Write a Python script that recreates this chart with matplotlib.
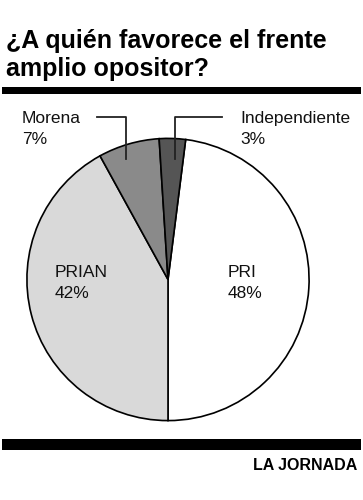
import matplotlib
matplotlib.use("Agg")
import matplotlib.pyplot as plt

# Data
categories = ["PRI", "PRIAN", "Morena", "Independiente"]
values = [48, 42, 7, 3]
colors = ["#ffffff", "#d9d9d9", "#8a8a8a", "#555555"]
title_lines = ["¿A quién favorece el frente", "amplio opositor?"]
source = "LA JORNADA"

plt.rcParams['font.family'] = ['Liberation Sans', 'DejaVu Sans']

W, H = 363, 500
fig = plt.figure(figsize=(W / 100, H / 100), dpi=100)
fig.patch.set_facecolor("white")

# pie axes
cx, cy, r = 168, 279.5, 142.5
pax = fig.add_axes([(cx - r) / W, (H - cy - r) / H, 2 * r / W, 2 * r / H])
deg_first = values[0] / sum(values) * 360
start = -90 + deg_first  # first wedge (PRI) ends at 6 o'clock
pax.pie(values, colors=colors, startangle=start, counterclock=False,
        wedgeprops=dict(edgecolor="black", linewidth=1.2), radius=1)
pax.set_xlim(-1.01, 1.01)
pax.set_ylim(-1.01, 1.01)

# overlay axes in pixel coordinates
ov = fig.add_axes([0, 0, 1, 1])
ov.patch.set_alpha(0)
ov.set_xlim(0, W)
ov.set_ylim(H, 0)
ov.axis("off")

# Title
for txt, yb in zip(title_lines, [48, 76]):
    ov.text(6, yb, txt, fontsize=18, fontweight="bold", ha="left", va="baseline",
            color="black")
# rules
ov.add_patch(plt.Rectangle((2, 87), 359, 7, color="black", lw=0))
ov.add_patch(plt.Rectangle((2, 439), 359, 11, color="black", lw=0))
ov.text(357, 470, source, fontsize=11.5, fontweight="bold", ha="right", va="baseline")

# Labels
lab = dict(fontsize=12.5, ha="left", va="baseline", color="#111111")
def label(x, y1, i):
    ov.text(x, y1, categories[i], **lab)
    ov.text(x, y1 + 21.5, f"{values[i]}%", **lab)

label(228, 277, 0)
label(55, 277, 1)
label(22, 123, 2)
label(240, 123, 3)

# leader lines
ov.plot([97, 126, 126], [117, 117, 159], color="#222222", lw=1.3)
ov.plot([222, 175, 175], [117, 117, 159], color="#222222", lw=1.3)

fig.savefig("out.png", dpi=100)
